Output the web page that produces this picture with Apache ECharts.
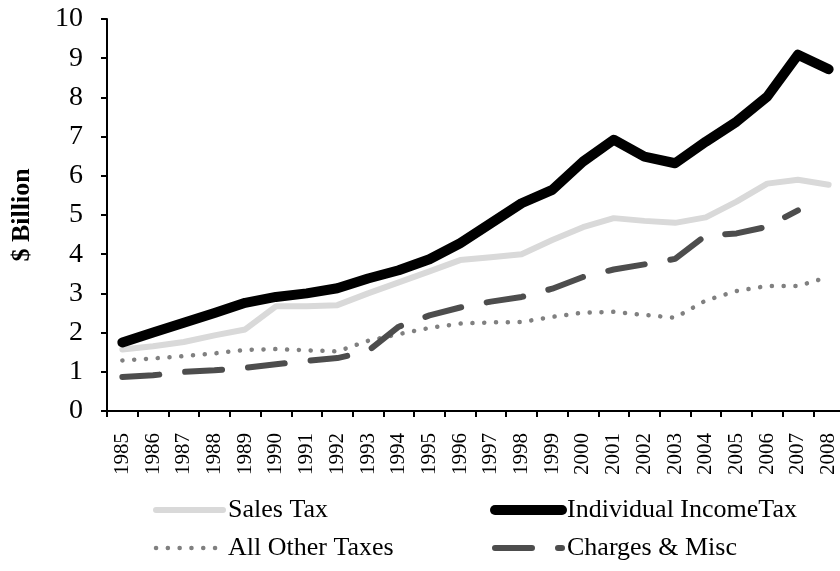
<!DOCTYPE html>
<html>
<head>
<meta charset="utf-8">
<script src="https://cdn.jsdelivr.net/npm/echarts@6/dist/echarts.min.js"></script>
<style>
  html, body { margin: 0; padding: 0; background: #fff; }
  #chart { width: 840px; height: 571px; }
</style>
</head>
<body>
<div id="chart"></div>
<script>
// years on the x axis
const years = ['1985', '1986', '1987', '1988', '1989', '1990', '1991', '1992',
  '1993', '1994', '1995', '1996', '1997', '1998', '1999', '2000', '2001',
  '2002', '2003', '2004', '2005', '2006', '2007', '2008'];

// $ billion
const salesTax = [1.57, 1.65, 1.76, 1.93, 2.08, 2.67, 2.67, 2.70, 3.00, 3.28,
  3.56, 3.85, 3.92, 4.00, 4.36, 4.69, 4.92, 4.85, 4.80, 4.94, 5.34, 5.80, 5.90, 5.77];
const incomeTax = [1.75, 2.00, 2.25, 2.50, 2.76, 2.91, 3.00, 3.13, 3.38, 3.59,
  3.87, 4.28, 4.79, 5.30, 5.64, 6.36, 6.92, 6.49, 6.32, 6.87, 7.38, 8.02, 9.09, 8.72];
const otherTaxes = [1.29, 1.34, 1.40, 1.47, 1.56, 1.58, 1.55, 1.52, 1.79, 1.96,
  2.12, 2.23, 2.26, 2.27, 2.40, 2.51, 2.53, 2.45, 2.38, 2.82, 3.06, 3.19, 3.19, 3.42];
const chargesMisc = [0.87, 0.91, 1.00, 1.04, 1.10, 1.19, 1.28, 1.35, 1.53, 2.15,
  2.44, 2.64, 2.79, 2.91, 3.12, 3.42, 3.61, 3.74, 3.88, 4.48, 4.53, 4.70, 5.12, null];

const yTicks = [0, 10, 1]; // min, max, step

const font = 'Liberation Serif, Times New Roman, serif';

const chart = echarts.init(document.getElementById('chart'));

const lineSeries = (name, data, style) => ({
  name,
  type: 'line',
  data,
  symbol: 'none',
  connectNulls: false,
  lineStyle: style,
  itemStyle: { color: style.color },
  emphasis: { disabled: true },
});

// legend: two columns, drawn as two vertical legends
const legendCol = (data, left) => ({
  data,
  orient: 'vertical',
  left,
  top: 492,
  itemWidth: 67,
  itemHeight: 14,
  itemGap: 12,
  itemStyle: { opacity: 0 },
  lineStyle: { width: 'inherit' },
  textStyle: { fontFamily: font, fontSize: 26, color: '#000' },
});

chart.setOption({
  animation: false,
  backgroundColor: '#fff',
  grid: {
    left: 107, top: 19, width: 737, height: 392,
    containLabel: false, outerBoundsMode: 'none',
  },
  legend: [
    legendCol(['Sales Tax', 'All Other Taxes'], 148),
    legendCol(['Individual IncomeTax', 'Charges & Misc'], 485),
  ],
  xAxis: {
    type: 'category',
    data: years,
    boundaryGap: true,
    axisLine: { lineStyle: { color: '#000', width: 2 } },
    axisTick: { show: true, length: 6, lineStyle: { color: '#000', width: 2 } },
    axisLabel: {
      rotate: 90,
      interval: 0,
      margin: 22,
      color: '#000',
      fontFamily: font,
      fontSize: 21,
    },
  },
  yAxis: {
    type: 'value',
    min: yTicks[0],
    max: yTicks[1],
    interval: yTicks[2],
    name: '$ Billion',
    nameLocation: 'middle',
    nameRotate: 90,
    nameGap: 72,
    nameTextStyle: { fontFamily: font, fontSize: 26, fontWeight: 'bold', color: '#000' },
    axisLine: { show: true, lineStyle: { color: '#000', width: 2 } },
    axisTick: { show: true, length: 6, lineStyle: { color: '#000', width: 2 } },
    splitLine: { show: false },
    axisLabel: { margin: 24, color: '#000', fontFamily: font, fontSize: 28 },
  },
  series: [
    lineSeries('Sales Tax', salesTax, { color: '#d9d9d9', width: 6, cap: 'round', join: 'round' }),
    lineSeries('Individual IncomeTax', incomeTax, { color: '#000', width: 10, cap: 'round', join: 'round' }),
    lineSeries('All Other Taxes', otherTaxes, { color: '#808080', width: 4.5, type: [0.1, 11.7], cap: 'round', join: 'round' }),
    lineSeries('Charges & Misc', chargesMisc, { color: '#4d4d4d', width: 6, type: [37, 26], cap: 'round', join: 'round' }),
  ],
});
</script>
</body>
</html>
